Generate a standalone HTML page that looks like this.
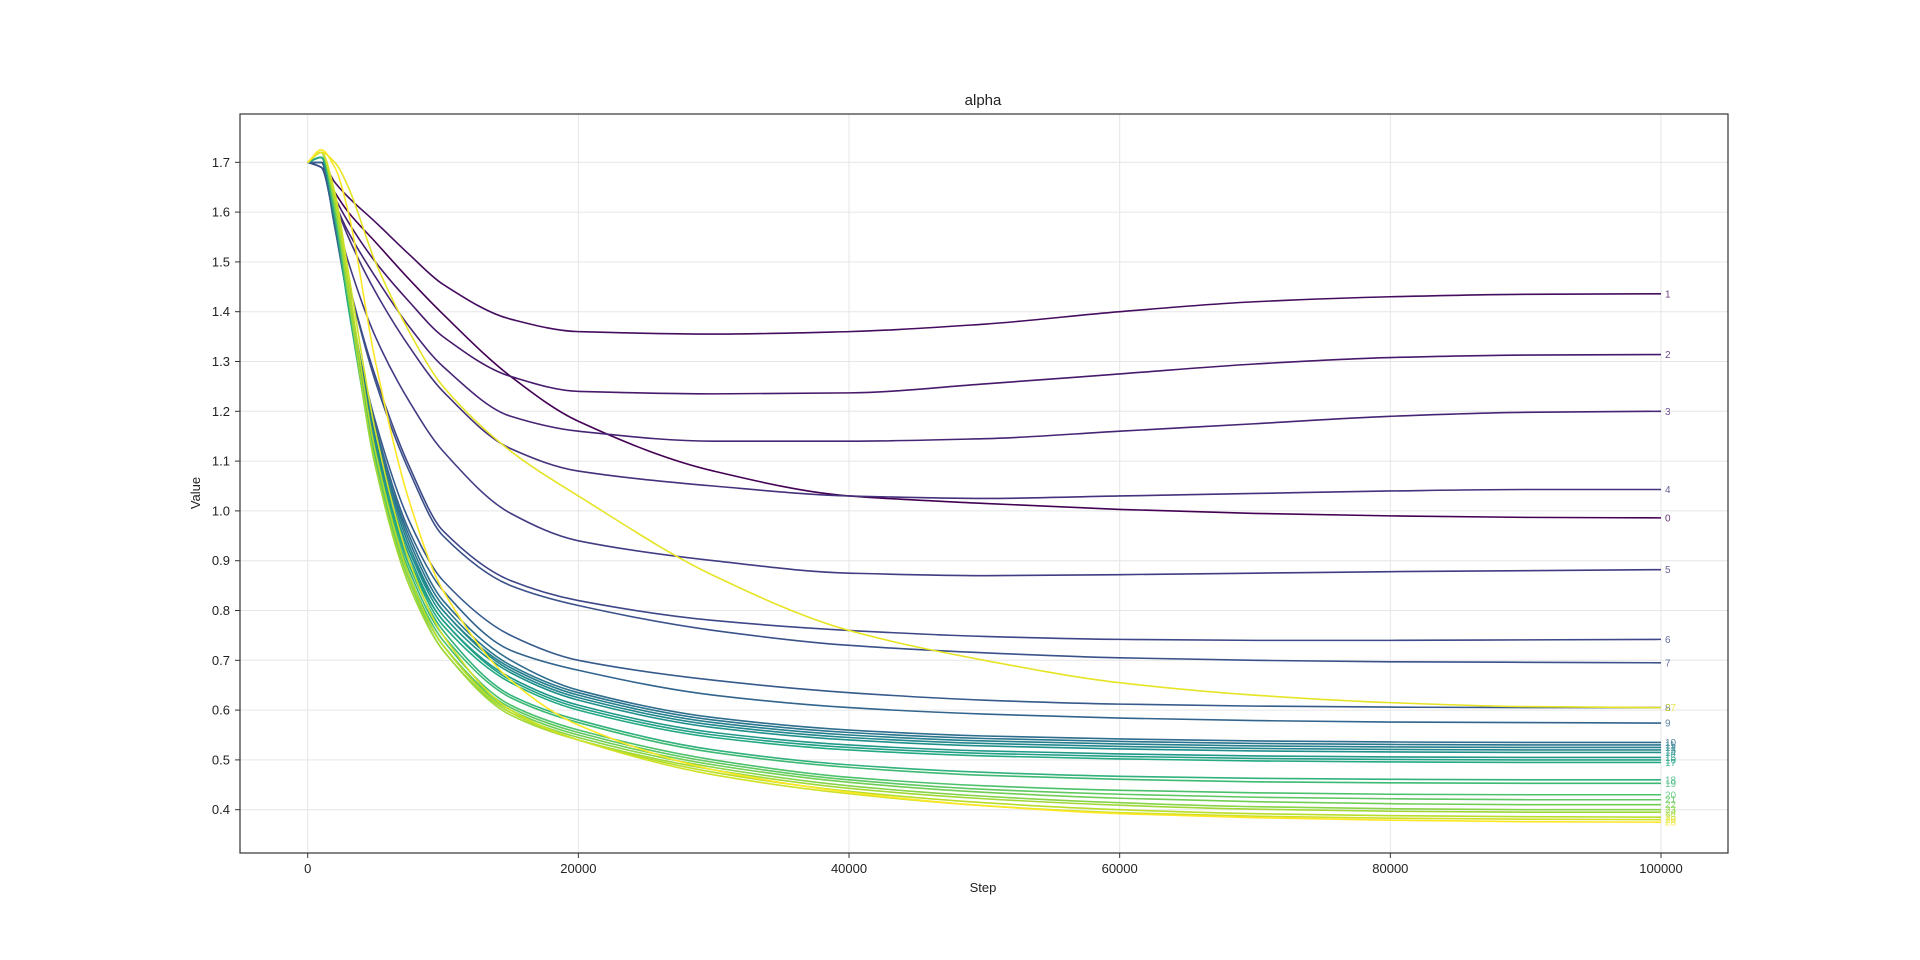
<!DOCTYPE html>
<html><head><meta charset="utf-8">
<style>
html,body{margin:0;padding:0;background:#fff;}
svg{display:block;font-family:"Liberation Sans","DejaVu Sans",sans-serif;}
</style></head>
<body>
<svg id="chart" width="1920" height="960" viewBox="0 0 1920 960" xmlns="http://www.w3.org/2000/svg">
<rect width="1920" height="960" fill="#fff"/>
<g id="grid"></g>
<g id="series"></g>
<g id="labels"></g>
<rect x="240" y="114" width="1488" height="739" fill="none" stroke="#333" stroke-width="1.2"/>
<g id="axes"></g>
<text x="983" y="105" text-anchor="middle" font-size="15" fill="#222">alpha</text>
<text x="983" y="892" text-anchor="middle" font-size="13" fill="#222">Step</text>
<text x="200" y="493" text-anchor="middle" font-size="13" fill="#222" transform="rotate(-90 200 493)">Value</text>
</svg>
<script>
const steps = [0,1000,2000,3000,5000,7500,10000,15000,20000,30000,40000,50000,60000,70000,80000,90000,100000];
const xTicks = [0,20000,40000,60000,80000,100000];
const yTicks = [0.4,0.5,0.6,0.7,0.8,0.9,1.0,1.1,1.2,1.3,1.4,1.5,1.6,1.7];
const s0 = [1.70,1.69,1.64,1.60,1.54,1.465,1.395,1.27,1.18,1.08,1.03,1.015,1.003,0.995,0.99,0.987,0.986];
const s1 = [1.70,1.70,1.66,1.63,1.58,1.515,1.455,1.385,1.36,1.355,1.36,1.375,1.40,1.42,1.43,1.435,1.436];
const s2 = [1.70,1.70,1.63,1.58,1.50,1.42,1.35,1.27,1.24,1.235,1.237,1.255,1.275,1.295,1.308,1.313,1.314];
const s3 = [1.70,1.70,1.62,1.56,1.47,1.37,1.29,1.19,1.16,1.14,1.14,1.145,1.16,1.175,1.19,1.198,1.20];
const s4 = [1.70,1.70,1.62,1.55,1.44,1.33,1.24,1.125,1.08,1.05,1.03,1.025,1.03,1.035,1.04,1.043,1.043];
const s5 = [1.70,1.69,1.60,1.50,1.35,1.22,1.12,0.995,0.94,0.90,0.875,0.87,0.872,0.875,0.878,0.88,0.882];
const s6 = [1.70,1.69,1.58,1.46,1.27,1.09,0.96,0.86,0.82,0.78,0.76,0.748,0.742,0.74,0.74,0.741,0.742];
const s7 = [1.70,1.69,1.58,1.46,1.26,1.08,0.95,0.85,0.81,0.76,0.73,0.715,0.705,0.70,0.697,0.696,0.695];
const s8 = [1.70,1.70,1.57,1.42,1.18,0.98,0.86,0.75,0.70,0.66,0.635,0.62,0.612,0.608,0.606,0.605,0.605];
const s9 = [1.70,1.70,1.57,1.42,1.17,0.96,0.84,0.72,0.68,0.63,0.605,0.592,0.584,0.579,0.576,0.575,0.574];
const s10 = [1.70,1.71,1.60,1.44,1.16,0.95,0.82,0.70,0.64,0.585,0.56,0.548,0.542,0.538,0.536,0.535,0.535];
const s11 = [1.70,1.71,1.60,1.44,1.16,0.94,0.81,0.69,0.635,0.58,0.555,0.543,0.537,0.533,0.531,0.53,0.53];
const s12 = [1.70,1.71,1.60,1.43,1.15,0.93,0.80,0.685,0.63,0.575,0.55,0.538,0.532,0.528,0.526,0.525,0.525];
const s13 = [1.70,1.71,1.60,1.43,1.14,0.92,0.80,0.68,0.625,0.57,0.545,0.533,0.527,0.523,0.521,0.52,0.52];
const s14 = [1.70,1.71,1.59,1.42,1.13,0.92,0.79,0.675,0.62,0.565,0.54,0.528,0.522,0.518,0.516,0.515,0.515];
const s15 = [1.70,1.71,1.59,1.42,1.12,0.91,0.78,0.665,0.61,0.555,0.53,0.518,0.512,0.508,0.506,0.505,0.505];
const s16 = [1.70,1.71,1.59,1.41,1.12,0.90,0.78,0.66,0.605,0.55,0.525,0.513,0.507,0.503,0.501,0.50,0.50];
const s17 = [1.70,1.71,1.59,1.41,1.11,0.90,0.77,0.655,0.60,0.545,0.52,0.508,0.502,0.498,0.496,0.495,0.495];
const s18 = [1.70,1.72,1.60,1.42,1.11,0.89,0.76,0.63,0.58,0.52,0.49,0.475,0.467,0.463,0.461,0.46,0.46];
const s19 = [1.70,1.72,1.60,1.42,1.10,0.88,0.75,0.625,0.575,0.515,0.485,0.469,0.461,0.456,0.454,0.453,0.453];
const s20 = [1.70,1.72,1.61,1.43,1.10,0.87,0.74,0.61,0.56,0.50,0.465,0.448,0.439,0.434,0.431,0.43,0.43];
const s21 = [1.70,1.72,1.61,1.43,1.10,0.87,0.73,0.605,0.555,0.495,0.46,0.441,0.431,0.425,0.422,0.42,0.42];
const s22 = [1.70,1.72,1.61,1.43,1.09,0.86,0.73,0.60,0.55,0.49,0.455,0.435,0.423,0.416,0.412,0.41,0.41];
const s23 = [1.70,1.72,1.62,1.44,1.09,0.86,0.72,0.595,0.545,0.485,0.448,0.427,0.414,0.406,0.402,0.40,0.40];
const s24 = [1.70,1.72,1.62,1.44,1.09,0.85,0.72,0.59,0.54,0.48,0.443,0.422,0.409,0.401,0.397,0.395,0.395];
const s25 = [1.70,1.72,1.63,1.46,1.12,0.87,0.73,0.595,0.54,0.475,0.437,0.414,0.400,0.392,0.388,0.386,0.385];
const s26 = [1.70,1.72,1.64,1.48,1.16,0.90,0.75,0.60,0.54,0.47,0.432,0.408,0.394,0.387,0.383,0.381,0.38];
const s27 = [1.70,1.72,1.70,1.65,1.50,1.36,1.25,1.12,1.03,0.87,0.76,0.70,0.655,0.63,0.615,0.607,0.605];
const s28 = [1.70,1.725,1.69,1.60,1.30,1.02,0.84,0.66,0.57,0.48,0.435,0.408,0.392,0.384,0.379,0.376,0.375];
const allSeries = [s0,s1,s2,s3,s4,s5,s6,s7,s8,s9,s10,s11,s12,s13,s14,s15,s16,s17,s18,s19,s20,s21,s22,s23,s24,s25,s26,s27,s28];

const NS = "http://www.w3.org/2000/svg";
const X0 = 307.7, XW = 1353.3, Y0 = 162.3, YK = 498;
function xs(v){ return X0 + v/100000*XW; }
function ys(v){ return Y0 + (1.7 - v)*YK; }
const vir = [[68,1,84],[72,35,116],[64,67,135],[52,94,141],[41,120,142],[32,144,140],[34,167,132],[68,190,112],[121,209,81],[189,222,38],[253,231,37]];
function viridis(t){
  const p = t*(vir.length-1), i = Math.min(Math.floor(p), vir.length-2), f = p-i;
  const c = vir[i].map((a,k)=>Math.round(a+(vir[i+1][k]-a)*f));
  return `rgb(${c[0]},${c[1]},${c[2]})`;
}
function mk(tag, attrs, parent){
  const e = document.createElementNS(NS, tag);
  for (const k in attrs) e.setAttribute(k, attrs[k]);
  parent.appendChild(e); return e;
}
function monotonePath(px, py){
  const n = px.length, d = [], m = [];
  for (let i=0;i<n-1;i++) d.push((py[i+1]-py[i])/(px[i+1]-px[i]));
  m[0]=d[0]; m[n-1]=d[n-2];
  for (let i=1;i<n-1;i++){ m[i] = (d[i-1]*d[i] <= 0) ? 0 : 3*(d[i-1]+d[i]) / ((2*d[i]+d[i-1])/d[i-1] + (d[i]+2*d[i-1])/d[i]) ; }
  let s = `M${px[0].toFixed(2)},${py[0].toFixed(2)}`;
  for (let i=0;i<n-1;i++){
    const h = (px[i+1]-px[i])/3;
    s += `C${(px[i]+h).toFixed(2)},${(py[i]+m[i]*h).toFixed(2)} ${(px[i+1]-h).toFixed(2)},${(py[i+1]-m[i+1]*h).toFixed(2)} ${px[i+1].toFixed(2)},${py[i+1].toFixed(2)}`;
  }
  return s;
}
const grid = document.getElementById('grid'), axes = document.getElementById('axes');
xTicks.forEach(t=>{
  const x = xs(t);
  const g = mk('line',{x1:x,x2:x,y1:114,y2:853,stroke:'#e6e6e6','stroke-width':1},grid);
  
  
  const tk = mk('line',{x1:x,x2:x,y1:853,y2:858,stroke:'#333','stroke-width':1},axes);
  
  
  const tx = mk('text',{x:x,y:873,'text-anchor':'middle','font-size':13,fill:'#222'},axes);
  tx.textContent = String(t);
  
  
});
yTicks.forEach(t=>{
  const y = ys(t);
  const g = mk('line',{x1:240,x2:1728,y1:y,y2:y,stroke:'#e6e6e6','stroke-width':1},grid);
  
  
  const tk = mk('line',{x1:235,x2:240,y1:y,y2:y,stroke:'#333','stroke-width':1},axes);
  
  
  const tx = mk('text',{x:230,y:y+4.5,'text-anchor':'end','font-size':13,fill:'#222'},axes);
  tx.textContent = t.toFixed(1);
  
  
});
const sg = document.getElementById('series'), lg = document.getElementById('labels');
allSeries.forEach((vals,i)=>{
  const col = viridis(i/(allSeries.length-1));
  const p = mk('path',{d:monotonePath(steps.map(xs), vals.map(ys)),fill:'none',stroke:col,'stroke-width':1.6,'stroke-linejoin':'round'},sg);
  
  
  const last = vals[vals.length-1];
  const t = mk('text',{x:xs(steps[steps.length-1])+4,y:ys(last)+3.5,'font-size':10,fill:col,opacity:0.8},lg);
  t.textContent = String(i);
  
  
});
</script>
</body></html>
